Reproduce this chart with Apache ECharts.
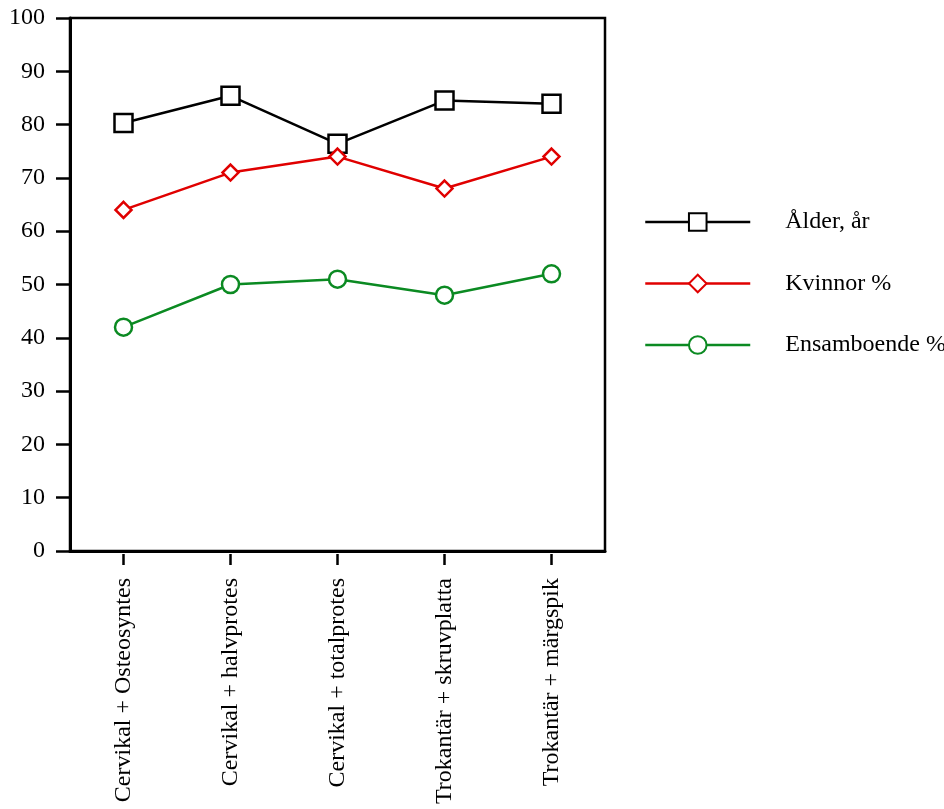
<!DOCTYPE html>
<html><head><meta charset="utf-8">
<script src="https://cdn.jsdelivr.net/npm/echarts@6/dist/echarts.min.js"></script>
<style>html,body{margin:0;padding:0;background:#fff}#c{width:944px;height:809px}</style>
</head><body><div id="c"></div>
<script>
const categories = ['Cervikal + Osteosyntes','Cervikal + halvprotes','Cervikal + totalprotes','Trokantär + skruvplatta','Trokantär + märgspik'];
const alder = [80.3, 85.4, 76.4, 84.5, 83.9];
const kvinnor = [64, 71, 74, 68, 74];
const ensamboende = [42, 50, 51, 48, 52];
const seriesNames = ['Ålder, år','Kvinnor %','Ensamboende %'];
const yTicks = {min:0, max:100, interval:10};

const font = 'Liberation Serif';
const chart = echarts.init(document.getElementById('c'), null, {renderer:'canvas'});
function mk(name, data, color, symbol, size){
  return {name, type:'line', data, xAxisIndex:0, yAxisIndex:0,
    symbol, symbolSize:size, showAllSymbol:true,
    lineStyle:{color, width:2.5}, itemStyle:{color:'#fff', borderColor:color, borderWidth:2.5},
    emphasis:{disabled:true}, animation:false, z:3};
}
chart.setOption({
  animation:false,
  backgroundColor:'#fff',
  grid:{left:70, top:18, right:339, bottom:258, show:true, borderColor:'#000', borderWidth:2.5, backgroundColor:'transparent'},
  legend:{left:639, top:205, orient:'vertical', itemWidth:105, itemHeight:22, itemGap:37.5,
    data:seriesNames,
    lineStyle:{width:2.5},
    textStyle:{fontFamily:font, fontSize:24, color:'#000', padding:[0,0,0,30]}},
  xAxis:[
    {type:'category', data:categories, boundaryGap:true, position:'bottom',
      axisLine:{show:true, lineStyle:{color:'#000', width:3}},
      axisTick:{show:false}, axisLabel:{show:false}, splitLine:{show:false}},
    {type:'category', data:categories, boundaryGap:true, position:'bottom', offset:3,
      axisLine:{show:false}, axisTick:{show:true, alignWithLabel:true, length:11, lineStyle:{color:'#000', width:2.5}},
      axisLabel:{show:true, rotate:90, margin:24, fontFamily:font, fontSize:24, color:'#000', interval:0},
      splitLine:{show:false}}
  ],
  yAxis:{type:'value', min:yTicks.min, max:yTicks.max, interval:yTicks.interval,
    axisLine:{show:true, lineStyle:{color:'#000', width:3}},
    axisTick:{show:true, length:14, lineStyle:{color:'#000', width:2.5}},
    axisLabel:{margin:25, fontFamily:font, fontSize:24, color:'#000'},
    splitLine:{show:false}},
  series:[
    mk(seriesNames[0], alder, '#000000', 'rect', 18),
    mk(seriesNames[1], kvinnor, '#e00000', 'diamond', 16),
    mk(seriesNames[2], ensamboende, '#0b8a22', 'circle', 17)
  ]
});
</script></body></html>
